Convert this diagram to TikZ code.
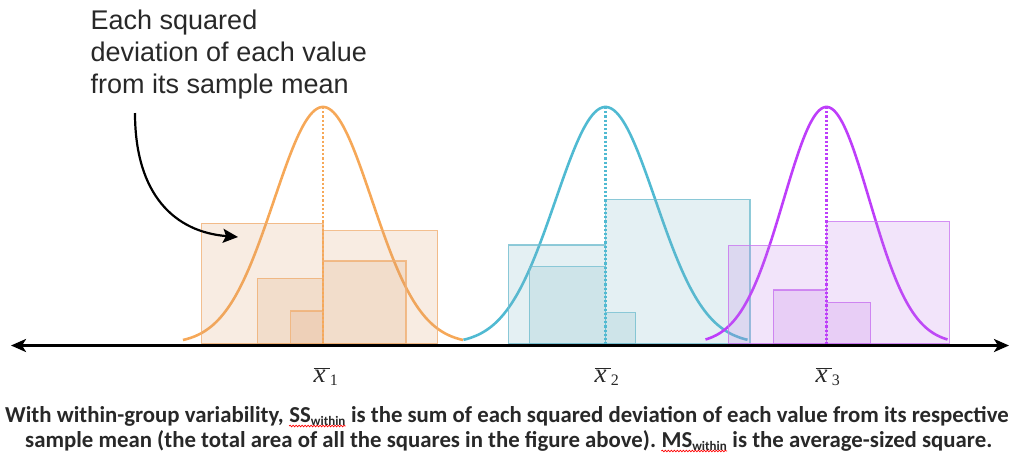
\documentclass[tikz,border=0pt]{standalone}
\usepackage{fontspec}
\setmainfont{Carlito}
\newfontfamily\arialf{Liberation Sans}
\newfontfamily\tmsf{Liberation Serif}
\usetikzlibrary{arrows.meta,decorations.pathmorphing}
\definecolor{orC}{RGB}{246,168,88}
\definecolor{orE}{RGB}{240,175,115}
\definecolor{orF}{RGB}{220,160,110}
\definecolor{blC}{RGB}{80,186,210}
\definecolor{blE}{RGB}{115,190,208}
\definecolor{blF}{RGB}{120,180,195}
\definecolor{puC}{RGB}{190,62,250}
\definecolor{puE}{RGB}{200,115,240}
\definecolor{puF}{RGB}{190,120,230}
\definecolor{txt}{RGB}{40,40,40}
\newcommand{\xbarlbl}[1]{$\overline{\mbox{\tmsf\itshape x\,}}_{\mbox{\tmsf\fontsize{16}{16}\selectfont #1}}$}
\begin{document}
\begin{tikzpicture}[x=1pt,y=-1pt,
  curve/.style={line width=2.6pt},
  meanline/.style={line width=2.2pt, dotted},
  sq/.style={line width=1.3pt, fill opacity=0.2, draw opacity=0.8},
  osq/.style={sq, draw=orE, fill=orF},
  bsq/.style={sq, draw=blE, fill=blF},
  psq/.style={sq, draw=puE, fill=puF},
  lbl/.style={font=\fontsize{27}{27}\selectfont, text=txt, anchor=base, inner sep=0pt},
  capline/.style={font=\fontsize{22.8}{27}\selectfont\bfseries, text=txt, inner sep=0pt, anchor=base west},
  wave/.style={red, line width=0.7pt, decorate, decoration={snake, amplitude=0.8pt, segment length=3pt}}
]
\useasboundingbox (0,0) rectangle (1010,456);

% ---------- orange group (mean 323) ----------
\draw[curve, orC, domain=-140:140, samples=120, smooth]
  plot ({323+\x}, {344-237*exp(-0.5*(\x/49)^2)});
\draw[osq] (201.7,344) rectangle (323,223.3);
\draw[osq] (323,344) rectangle (437.7,230.7);
\draw[osq] (323,344) rectangle (406,261);
\draw[osq] (257.3,344) rectangle (323,278.3);
\draw[osq] (290.7,344) rectangle (323,311);
\draw[meanline, orC] (323,107) -- (323,344);

% ---------- blue group (mean 605.5) ----------
\draw[curve, blC, domain=-142:142, samples=120, smooth]
  plot ({605.5+\x}, {344-237*exp(-0.5*(\x/50)^2)});
\draw[bsq] (605.5,344) rectangle (750,199.3);
\draw[bsq] (508.3,344) rectangle (605.5,245);
\draw[bsq] (529.3,344) rectangle (605.5,266.7);
\draw[bsq] (605.5,344) rectangle (635.7,312.7);
\draw[meanline, blC] (605.5,107) -- (605.5,344);

% ---------- purple group (mean 826.5) ----------
\draw[curve, puC, domain=-121:121, samples=120, smooth]
  plot ({826.5+\x}, {344-237*exp(-0.5*(\x/43)^2)});
\draw[psq] (826.5,344) rectangle (949.3,221.7);
\draw[psq] (728.3,344) rectangle (826.5,245.7);
\draw[psq] (773.3,344) rectangle (826.5,290);
\draw[psq] (826.5,344) rectangle (870.7,302.3);
\draw[meanline, puC] (826.5,107) -- (826.5,344);

% ---------- axis ----------
\coordinate (axL) at (11,345.5);
\coordinate (axR) at (1009,345.5);
\draw[line width=2.8pt, {Stealth[length=15pt,width=13pt,inset=4pt]}-{Stealth[length=15pt,width=13pt,inset=4pt]}] (axL) -- (axR);

% ---------- mean labels ----------
\node[lbl] (m1) at (326,382) {\xbarlbl{1}};
\node[lbl] (m2) at (607,382) {\xbarlbl{2}};
\node[lbl] (m3) at (828,382) {\xbarlbl{3}};

% ---------- annotation ----------
\node[font=\arialf\fontsize{27}{32}\selectfont, text=txt, align=left, anchor=north west, inner sep=0pt]
  (note) at (90.5,9.5) {Each squared\\deviation of each value\\from its sample mean};
\coordinate (aS) at (135,113);
\coordinate (aE) at (238,237);
\draw[line width=2.2pt, -{Stealth[length=15pt,width=14pt,inset=3pt]}]
  (aS) .. controls (135,195) and (175,232) .. (aE);

% ---------- caption ----------
\node[capline] (c1a) at (5,422) {With within-group variability,};
\node[capline, xshift=5.2pt] (c1b) at (c1a.base east) {SS\raisebox{-3pt}{\fontsize{13}{13}\selectfont within}};
\node[capline, xshift=5.2pt] (c1c) at (c1b.base east) {is the sum of each squared deviation of each value from its respective};
\node[capline] (c2a) at (25,447) {sample mean (the total area of all the squares in the figure above).};
\node[capline, xshift=5.2pt] (c2b) at (c2a.base east) {MS\raisebox{-3pt}{\fontsize{13}{13}\selectfont within}};
\node[capline, xshift=5.2pt] (c2c) at (c2b.base east) {is the average-sized square.};
\draw[wave] ([yshift=-4pt]c1b.base west) -- ([yshift=-4pt]c1b.base east);
\draw[wave] ([yshift=-4pt]c2b.base west) -- ([yshift=-4pt]c2b.base east);
\end{tikzpicture}
\end{document}
